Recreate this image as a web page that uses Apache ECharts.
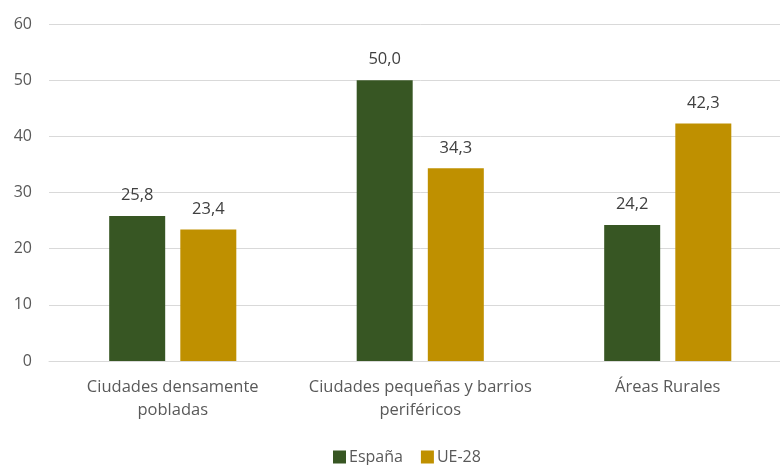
<!DOCTYPE html>
<html>
<head>
<meta charset="utf-8">
<script src="https://cdn.jsdelivr.net/npm/echarts@6/dist/echarts.min.js"></script>
<style>html,body{margin:0;padding:0;background:#fff;overflow:hidden;width:780px;height:465px}#c{width:800px;height:465px}</style>
</head>
<body>
<div id="c"></div>
<script>
const categories = ["Ciudades densamente\npobladas", "Ciudades pequeñas y barrios\nperiféricos", "Áreas Rurales"];
const espana = [25.8, 50.0, 24.2];
const ue28 = [23.4, 34.3, 42.3];
const seriesNames = ["España", "UE-28"];
const yTicks = {min: 0, max: 60, interval: 10};

const chart = echarts.init(document.getElementById('c'), null, {renderer: 'canvas'});
const font = "'Open Sans', 'Noto Sans', sans-serif";
const txt = '#595959';
const lbl = {
  show: true, position: 'top', distance: 12,
  formatter: p => p.value.toFixed(1).replace('.', ','),
  color: '#404040', fontSize: 16.5, fontFamily: font
};
chart.setOption({
  animation: false,
  grid: {left: 49, top: 24, width: 742.5, bottom: 104, containLabel: false},
  legend: {
    bottom: -5, left: 328, icon: 'rect',
    itemWidth: 13, itemHeight: 13, itemGap: 18,
    textStyle: {color: txt, fontSize: 16, fontFamily: font, padding: [0, 0, 0, -2]},
    data: seriesNames
  },
  xAxis: {
    type: 'category', data: categories,
    axisLine: {lineStyle: {color: '#d9d9d9'}},
    axisTick: {show: false},
    axisLabel: {color: txt, fontSize: 16.5, fontFamily: font, margin: 15, lineHeight: 23, interval: 0}
  },
  yAxis: {
    type: 'value', min: yTicks.min, max: yTicks.max, interval: yTicks.interval,
    axisLine: {show: false}, axisTick: {show: false},
    axisLabel: {color: txt, fontSize: 16, fontFamily: font, margin: 17},
    splitLine: {lineStyle: {color: '#d9d9d9'}}
  },
  series: [
    {name: seriesNames[0], type: 'bar', data: espana, barWidth: 56, barGap: '27%',
     itemStyle: {color: '#375623'}, label: lbl},
    {name: seriesNames[1], type: 'bar', data: ue28, barWidth: 56,
     itemStyle: {color: '#BF9000'}, label: lbl}
  ]
});
</script>
</body>
</html>
